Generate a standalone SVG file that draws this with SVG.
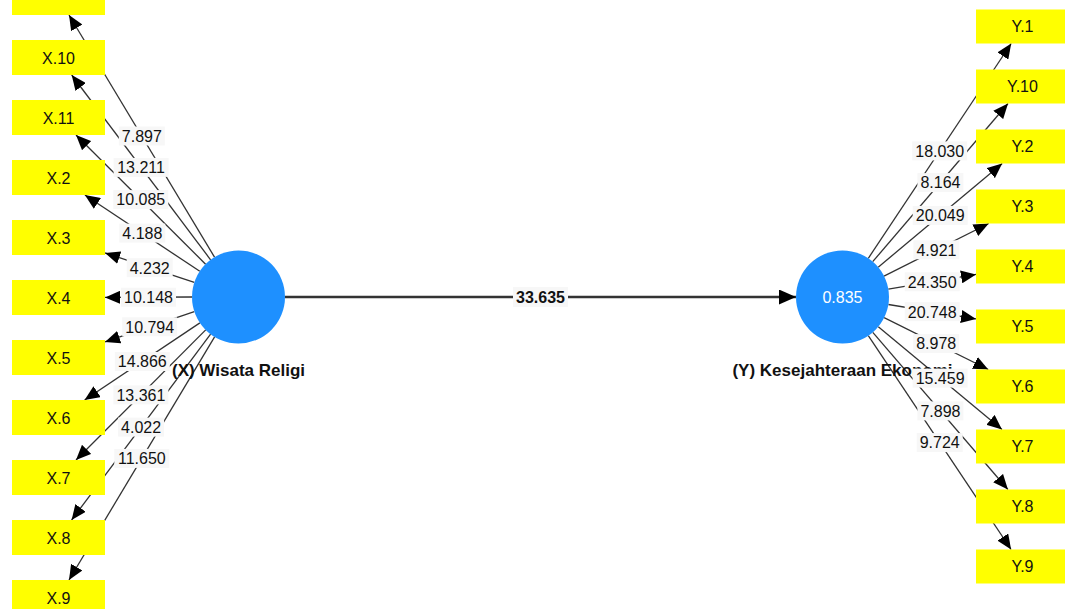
<svg xmlns="http://www.w3.org/2000/svg" width="1065" height="609" viewBox="0 0 1065 609">
<style>
text{font-family:"Liberation Sans",Arial,sans-serif;fill:#111}
.box{fill:#ffff00}
.bt{font-size:16px;text-anchor:middle}
.lat{fill:#1e90ff}
.nl{font-size:17px;font-weight:bold;text-anchor:middle}
.r2{font-size:16px;text-anchor:middle;fill:#fff}
.e{stroke:#333;stroke-width:1.3;fill:none;marker-end:url(#ah)}
.m{stroke:#333;stroke-width:2.6;fill:none;marker-end:url(#ahm)}
.lb rect{fill:#f7f7f7}
.lb text{font-size:16px;text-anchor:middle}
.lbb text{font-weight:bold}
</style>
<defs>
<marker id="ah" markerUnits="userSpaceOnUse" markerWidth="15" markerHeight="13" viewBox="0 0 15 13" refX="15" refY="6.5" orient="auto"><path d="M0,0 L15,6.5 L0,13 z" fill="#000"/></marker>
<marker id="ahm" markerUnits="userSpaceOnUse" markerWidth="17" markerHeight="15" viewBox="0 0 17 15" refX="17" refY="7.5" orient="auto"><path d="M0,0 L17,7.5 L0,15 z" fill="#000"/></marker>
</defs>
<rect width="1065" height="609" fill="#fff"/>
<g id="connectors">
<line class="e" x1="214.5" y1="257.1" x2="69" y2="15"/>
<line class="e" x1="210.6" y1="259.8" x2="71.7" y2="75"/>
<line class="e" x1="205.6" y1="264.2" x2="76" y2="135"/>
<line class="e" x1="199.8" y1="271.3" x2="84.9" y2="195"/>
<line class="e" x1="194.3" y1="282.4" x2="105" y2="252.9"/>
<line class="e" x1="192" y1="297" x2="105" y2="297.4"/>
<line class="e" x1="194.3" y1="311.7" x2="105" y2="341.9"/>
<line class="e" x1="199.9" y1="322.9" x2="84.6" y2="400"/>
<line class="e" x1="205.7" y1="329.9" x2="76" y2="460"/>
<line class="e" x1="210.6" y1="334.2" x2="71.6" y2="520"/>
<line class="e" x1="214.6" y1="336.9" x2="69" y2="580"/>
<line class="e" x1="868.3" y1="258.3" x2="1011.2" y2="43.5"/>
<line class="e" x1="872.7" y1="261.7" x2="1008" y2="103.5"/>
<line class="e" x1="878.2" y1="267.2" x2="1002.2" y2="163.5"/>
<line class="e" x1="884" y1="276.1" x2="988.7" y2="223.5"/>
<line class="e" x1="888.3" y1="289.2" x2="976" y2="274.4"/>
<line class="e" x1="888.4" y1="304.5" x2="976" y2="318.9"/>
<line class="e" x1="884.1" y1="317.7" x2="988.3" y2="369.5"/>
<line class="e" x1="878.3" y1="326.7" x2="1002" y2="429.5"/>
<line class="e" x1="872.8" y1="332.3" x2="1007.9" y2="489.5"/>
<line class="e" x1="868.3" y1="335.7" x2="1011.1" y2="549.5"/>
<line class="m" x1="285" y1="297" x2="796" y2="297"/>
</g>
<g id="node-X1"><rect class="box" x="12" y="-20" width="93" height="35"/></g>
<g id="node-X10"><rect class="box" x="12" y="40" width="93" height="35"/><text class="bt" x="58.5" y="63.5">X.10</text></g>
<g id="node-X11"><rect class="box" x="12" y="100" width="93" height="35"/><text class="bt" x="58.5" y="123.5">X.11</text></g>
<g id="node-X2"><rect class="box" x="12" y="160" width="93" height="35"/><text class="bt" x="58.5" y="183.5">X.2</text></g>
<g id="node-X3"><rect class="box" x="12" y="220" width="93" height="35"/><text class="bt" x="58.5" y="243.5">X.3</text></g>
<g id="node-X4"><rect class="box" x="12" y="280" width="93" height="35"/><text class="bt" x="58.5" y="303.5">X.4</text></g>
<g id="node-X5"><rect class="box" x="12" y="340" width="93" height="35"/><text class="bt" x="58.5" y="363.5">X.5</text></g>
<g id="node-X6"><rect class="box" x="12" y="400" width="93" height="35"/><text class="bt" x="58.5" y="423.5">X.6</text></g>
<g id="node-X7"><rect class="box" x="12" y="460" width="93" height="35"/><text class="bt" x="58.5" y="483.5">X.7</text></g>
<g id="node-X8"><rect class="box" x="12" y="520" width="93" height="35"/><text class="bt" x="58.5" y="543.5">X.8</text></g>
<g id="node-X9"><rect class="box" x="12" y="580" width="93" height="35"/><text class="bt" x="58.5" y="603.5">X.9</text></g>
<g id="node-Y1"><rect class="box" x="976" y="9.5" width="93" height="34"/><text class="bt" x="1022.5" y="32.3">Y.1</text></g>
<g id="node-Y10"><rect class="box" x="976" y="69.5" width="93" height="34"/><text class="bt" x="1022.5" y="92.3">Y.10</text></g>
<g id="node-Y2"><rect class="box" x="976" y="129.5" width="93" height="34"/><text class="bt" x="1022.5" y="152.3">Y.2</text></g>
<g id="node-Y3"><rect class="box" x="976" y="189.5" width="93" height="34"/><text class="bt" x="1022.5" y="212.3">Y.3</text></g>
<g id="node-Y4"><rect class="box" x="976" y="249.5" width="93" height="34"/><text class="bt" x="1022.5" y="272.3">Y.4</text></g>
<g id="node-Y5"><rect class="box" x="976" y="309.5" width="93" height="34"/><text class="bt" x="1022.5" y="332.3">Y.5</text></g>
<g id="node-Y6"><rect class="box" x="976" y="369.5" width="93" height="34"/><text class="bt" x="1022.5" y="392.3">Y.6</text></g>
<g id="node-Y7"><rect class="box" x="976" y="429.5" width="93" height="34"/><text class="bt" x="1022.5" y="452.3">Y.7</text></g>
<g id="node-Y8"><rect class="box" x="976" y="489.5" width="93" height="34"/><text class="bt" x="1022.5" y="512.3">Y.8</text></g>
<g id="node-Y9"><rect class="box" x="976" y="549.5" width="93" height="34"/><text class="bt" x="1022.5" y="572.3">Y.9</text></g>
<g id="node-X"><circle class="lat" cx="238.5" cy="297" r="46.5"/><text class="nl" x="238.5" y="376">(X) Wisata Religi</text></g>
<g id="node-Y"><circle class="lat" cx="842.5" cy="297" r="46.5"/><text class="r2" x="842.5" y="302.8">0.835</text><text class="nl" x="842.5" y="376">(Y) Kesejahteraan Ekonomi</text></g>
<g id="connector-labels" class="lb">
<g transform="translate(141.8,136)"><rect x="-23" y="-9.5" width="46" height="19"/><text y="5.8">7.897</text></g>
<g transform="translate(141.1,167.4)"><rect x="-27.5" y="-9.5" width="55" height="19"/><text y="5.8">13.211</text></g>
<g transform="translate(140.8,199.6)"><rect x="-27.5" y="-9.5" width="55" height="19"/><text y="5.8">10.085</text></g>
<g transform="translate(142.3,233.1)"><rect x="-23" y="-9.5" width="46" height="19"/><text y="5.8">4.188</text></g>
<g transform="translate(149.7,267.7)"><rect x="-23" y="-9.5" width="46" height="19"/><text y="5.8">4.232</text></g>
<g transform="translate(148.5,297.2)"><rect x="-27.5" y="-9.5" width="55" height="19"/><text y="5.8">10.148</text></g>
<g transform="translate(149.7,326.8)"><rect x="-27.5" y="-9.5" width="55" height="19"/><text y="5.8">10.794</text></g>
<g transform="translate(142.3,361.5)"><rect x="-27.5" y="-9.5" width="55" height="19"/><text y="5.8">14.866</text></g>
<g transform="translate(140.9,394.9)"><rect x="-27.5" y="-9.5" width="55" height="19"/><text y="5.8">13.361</text></g>
<g transform="translate(141.1,427.1)"><rect x="-23" y="-9.5" width="46" height="19"/><text y="5.8">4.022</text></g>
<g transform="translate(141.8,458.4)"><rect x="-27.5" y="-9.5" width="55" height="19"/><text y="5.8">11.650</text></g>
<g transform="translate(939.7,150.9)"><rect x="-27.5" y="-9.5" width="55" height="19"/><text y="5.8">18.030</text></g>
<g transform="translate(940.4,182.6)"><rect x="-23" y="-9.5" width="46" height="19"/><text y="5.8">8.164</text></g>
<g transform="translate(940.2,215.4)"><rect x="-27.5" y="-9.5" width="55" height="19"/><text y="5.8">20.049</text></g>
<g transform="translate(936.4,249.8)"><rect x="-23" y="-9.5" width="46" height="19"/><text y="5.8">4.921</text></g>
<g transform="translate(932.2,281.8)"><rect x="-27.5" y="-9.5" width="55" height="19"/><text y="5.8">24.350</text></g>
<g transform="translate(932.2,311.7)"><rect x="-27.5" y="-9.5" width="55" height="19"/><text y="5.8">20.748</text></g>
<g transform="translate(936.2,343.6)"><rect x="-23" y="-9.5" width="46" height="19"/><text y="5.8">8.978</text></g>
<g transform="translate(940.1,378.1)"><rect x="-27.5" y="-9.5" width="55" height="19"/><text y="5.8">15.459</text></g>
<g transform="translate(940.4,410.9)"><rect x="-23" y="-9.5" width="46" height="19"/><text y="5.8">7.898</text></g>
<g transform="translate(939.7,442.6)"><rect x="-23" y="-9.5" width="46" height="19"/><text y="5.8">9.724</text></g>
<g class="lbb" transform="translate(540.5,297)"><rect x="-27.5" y="-10" width="55" height="20"/><text y="5.8">33.635</text></g>
</g>
</svg>
